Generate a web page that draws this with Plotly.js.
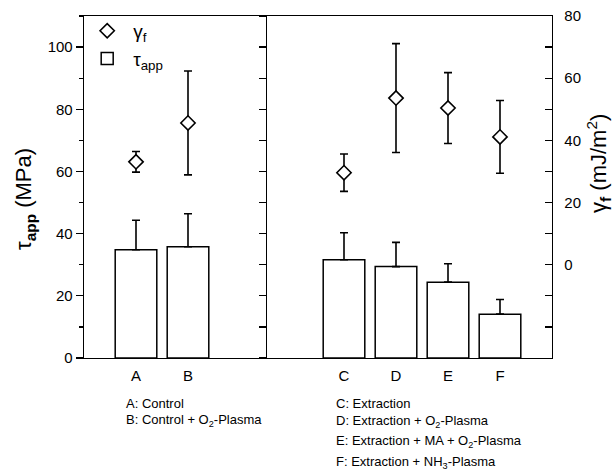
<!DOCTYPE html>
<html>
<head>
<meta charset="utf-8">
<script src="https://cdn.plot.ly/plotly-3.0.1.min.js"></script>
<style>html,body{margin:0;padding:0;background:#fff}#chart{width:615px;height:473px}</style>
</head>
<body>
<div id="chart"></div>
<script>
// ---- data ----
const categories = ['A', 'B', 'C', 'D', 'E', 'F'];
const tauApp = [34.8, 35.8, 31.6, 29.4, 24.4, 14.1];          // MPa
const tauAppErr = [9.5, 10.6, 8.7, 7.8, 5.9, 4.7];            // MPa (upper only)
const gammaF = [33.1, 45.6, 29.6, 53.6, 50.4, 41.1];          // mJ/m^2
const gammaFErr = [3.3, 16.7, 6.0, 17.5, 11.4, 11.7];         // mJ/m^2
const descriptionsLeft = ['A: Control', 'B: Control + O<sub>2</sub>-Plasma'];
const descriptionsRight = ['C: Extraction', 'D: Extraction + O<sub>2</sub>-Plasma',
  'E: Extraction + MA + O<sub>2</sub>-Plasma', 'F: Extraction + NH<sub>3</sub>-Plasma'];
const leftTicks = [0, 20, 40, 60, 80, 100];
const rightTicks = [-20, -10, 0, 10, 20, 30, 40, 50, 60, 70, 80];
const rightTickText = ['', '', '0', '', '20', '', '40', '', '60', '', '80'];
const leftTitle = '\u03c4<sub><b>app</b></sub> (MPa)';
const rightTitle = '\u03b3<sub><b>f</b></sub> (mJ/m<sup>2</sup>)';

// layout helpers (spacer categories create the gap between the two groups)
const catOrder = ['A', 'B', ' ', '  ', 'C', 'D', 'E', 'F'];
const FONT = 'Liberation Sans, Arial, sans-serif';
const zeros = tauAppErr.map(() => 0);

const traces = [
  {
    type: 'scatter', mode: 'markers', x: categories, y: gammaF, yaxis: 'y2',
    name: '\u03b3<sub>f</sub>',
    marker: {symbol: 'diamond', size: 11, color: '#ffffff', line: {color: '#000', width: 1.6}},
    error_y: {type: 'data', array: gammaFErr, visible: true, color: '#000', thickness: 1.6, width: 4},
    legendrank: 1
  },
  {
    type: 'bar', x: categories, y: tauApp, yaxis: 'y',
    name: '\u03c4<sub>app</sub>', width: 0.8,
    marker: {color: '#ffffff', line: {color: '#000', width: 1.5}},
    error_y: {type: 'data', symmetric: false, array: tauAppErr, arrayminus: zeros,
      visible: true, color: '#000', thickness: 1.6, width: 4},
    legendrank: 2
  },
  // invisible trace to activate the break axis (yaxis3)
  {type: 'scatter', x: [], y: [], yaxis: 'y3', showlegend: false, hoverinfo: 'skip'}
];

const annotations = [];
descriptionsLeft.forEach((t, i) => annotations.push({
  xref: 'paper', yref: 'paper', x: 0.0845, y: [-0.1345, -0.184][i],
  xanchor: 'left', yanchor: 'middle', showarrow: false, text: t,
  font: {family: FONT, size: 13, color: '#000'}
}));
descriptionsRight.forEach((t, i) => annotations.push({
  xref: 'paper', yref: 'paper', x: 0.535, y: [-0.1345, -0.186, -0.2456, -0.307][i],
  xanchor: 'left', yanchor: 'middle', showarrow: false, text: t,
  font: {family: FONT, size: 13, color: '#000'}
}));
annotations.push({
  xref: 'paper', yref: 'paper', x: -0.126, y: 0.465, xanchor: 'center', yanchor: 'middle',
  textangle: -90, showarrow: false, text: leftTitle, font: {family: FONT, size: 22, color: '#000'}
});
annotations.push({
  xref: 'paper', yref: 'paper', x: 1.098, y: 0.57, xanchor: 'center', yanchor: 'middle',
  textangle: -90, showarrow: false, text: rightTitle, font: {family: FONT, size: 22, color: '#000'}
});

const layout = {
  width: 615, height: 473,
  margin: {l: 84, r: 63, t: 16, b: 115},
  paper_bgcolor: '#fff', plot_bgcolor: '#fff',
  font: {family: FONT, color: '#000'},
  showlegend: true,
  legend: {x: -0.006, y: 1.012, xanchor: 'left', yanchor: 'top', bgcolor: 'rgba(0,0,0,0)',
    itemwidth: 42, font: {family: FONT, size: 19, color: '#000'}, tracegroupgap: 0},
  xaxis: {
    type: 'category', categoryorder: 'array', categoryarray: catOrder,
    range: [-1, 8], showgrid: false, zeroline: false,
    showline: true, linecolor: '#000', linewidth: 1.3, mirror: true,
    ticks: '', tickfont: {family: FONT, size: 15, color: '#000'}, ticklabelstandoff: 4
  },
  yaxis: {
    range: [0, 110], tickmode: 'array', tickvals: leftTicks,
    showgrid: false, zeroline: false, showline: true, linecolor: '#000', linewidth: 1.3,
    ticks: 'outside', ticklen: 7, tickwidth: 1.2, tickcolor: '#000',
    minor: {dtick: 10, ticks: 'outside', ticklen: 4, tickwidth: 1.2, tickcolor: '#000', showgrid: false},
    tickfont: {family: FONT, size: 15, color: '#000'}
  },
  yaxis2: {
    overlaying: 'y', side: 'right', range: [-30, 80],
    tickmode: 'array', tickvals: rightTicks, ticktext: rightTickText,
    showgrid: false, zeroline: false, showline: true, linecolor: '#000', linewidth: 1.3,
    ticks: 'inside', ticklen: 7, tickwidth: 1.2, tickcolor: '#000',
    tickfont: {family: FONT, size: 15, color: '#000'}, ticklabelstandoff: 8
  },
  yaxis3: {
    overlaying: 'y', anchor: 'free', side: 'left', position: 3.5 / 9, range: [0, 110],
    dtick: 10, showticklabels: false, showgrid: false, zeroline: false,
    showline: true, linecolor: '#000', linewidth: 1.3,
    ticks: 'outside', ticklen: 7, tickwidth: 1.2, tickcolor: '#000'
  },
  annotations: annotations
};

Plotly.newPlot('chart', traces, layout, {displayModeBar: false, staticPlot: true});
</script>
</body>
</html>
